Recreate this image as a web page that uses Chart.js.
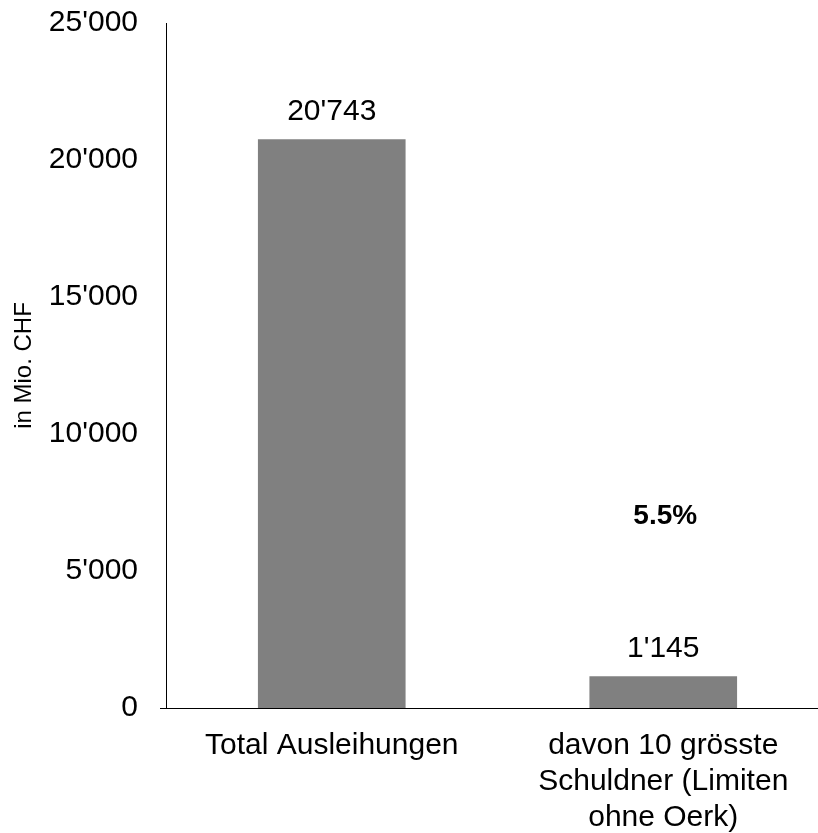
<!DOCTYPE html>
<html>
<head>
<meta charset="utf-8">
<script src="https://cdn.jsdelivr.net/npm/chart.js@4/dist/chart.umd.min.js"></script>
<style>
  html, body { margin: 0; padding: 0; background: #fff; overflow: hidden; }
  canvas { display: block; }
</style>
</head>
<body>
<canvas id="chart" width="829" height="833"></canvas>
<script>
// Ausleihungen in Mio. CHF
const categories = [
  'Total Ausleihungen',
  ['davon 10 grösste', 'Schuldner (Limiten', 'ohne Oerk)']
];
const amounts = [20743, 1145];
const yTicks = [0, 5000, 10000, 15000, 20000, 25000];

// Swiss thousands separator
function fmt(n) {
  return String(n).replace(/\B(?=(\d{3})+(?!\d))/g, "'");
}

const FONT = 'Liberation Sans, Arial, Helvetica, sans-serif';
const SHARE_LABEL_LEVEL = 7000; // height on the value axis for the share label

const labelsPlugin = {
  id: 'valueLabels',
  afterDatasetsDraw(chart) {
    const ctx = chart.ctx;
    const meta = chart.getDatasetMeta(0);
    const y = chart.scales.y;
    ctx.save();
    ctx.fillStyle = '#000';
    ctx.textAlign = 'center';
    ctx.textBaseline = 'alphabetic';
    ctx.font = '30px ' + FONT;
    meta.data.forEach((bar, i) => {
      ctx.fillText(fmt(amounts[i]), bar.x, bar.y - 20);
    });
    // share of the ten largest borrowers
    const share = (amounts[1] / amounts[0] * 100).toFixed(1) + '%';
    ctx.font = 'bold 28px ' + FONT;
    ctx.textBaseline = 'middle';
    ctx.fillText(share, meta.data[1].x + 2, y.getPixelForValue(SHARE_LABEL_LEVEL));
    // short stub left of the origin
    const a = chart.chartArea;
    ctx.strokeStyle = '#000';
    ctx.lineWidth = 1;
    ctx.beginPath();
    ctx.moveTo(a.left - 6, Math.round(a.bottom) + 0.5);
    ctx.lineTo(a.left, Math.round(a.bottom) + 0.5);
    ctx.stroke();
    ctx.restore();
  }
};

new Chart(document.getElementById('chart'), {
  type: 'bar',
  data: {
    labels: categories,
    datasets: [{
      data: amounts,
      backgroundColor: '#808080',
      borderWidth: 0,
      barThickness: 147
    }]
  },
  options: {
    responsive: false,
    animation: false,
    layout: { padding: { top: 23, left: 0, right: 0, bottom: 0 } },
    plugins: { legend: { display: false }, tooltip: { enabled: false } },
    scales: {
      x: {
        grid: { display: false, drawTicks: false },
        border: { display: true, color: '#000', width: 1 },
        ticks: {
          color: '#000',
          font: { family: FONT, size: 30, lineHeight: 1.2 },
          padding: 20,
          maxRotation: 0,
          autoSkip: false
        },
        afterFit(scale) {
          scale.height = 125;
          scale.paddingLeft = 0;
          scale.paddingRight = 0;
        }
      },
      y: {
        min: 0,
        max: 25000,
        grid: { display: false, drawTicks: false },
        border: { display: true, color: '#000', width: 1 },
        afterBuildTicks(scale) {
          scale.ticks = yTicks.map(v => ({ value: v }));
        },
        ticks: {
          color: '#000',
          font: { family: FONT, size: 30 },
          padding: 28,
          callback: v => fmt(v)
        },
        title: {
          display: true,
          text: 'in Mio. CHF',
          color: '#000',
          font: { family: FONT, size: 24 },
          padding: { top: 10, bottom: 0 }
        },
        afterFit(scale) {
          scale.width = 166;
          scale.paddingTop = 0;
          scale.paddingBottom = 0;
        }
      }
    }
  },
  plugins: [labelsPlugin]
});
</script>
</body>
</html>
